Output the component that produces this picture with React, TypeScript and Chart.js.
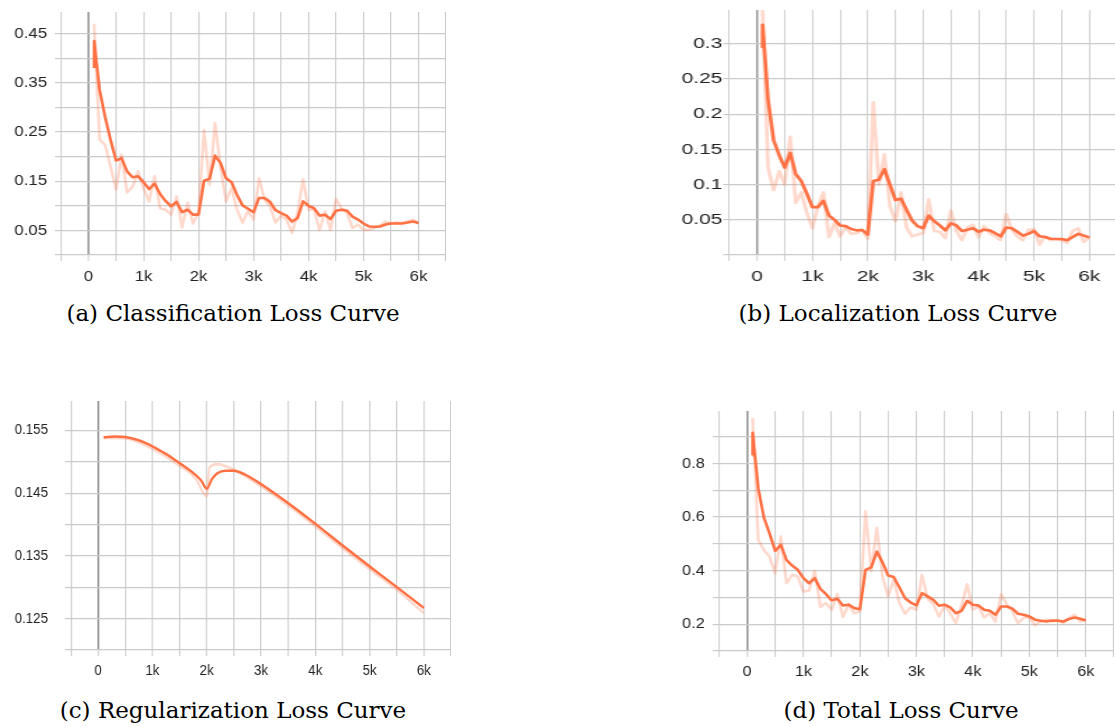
import React, { useEffect, useRef } from 'react';
import { Chart, registerables } from 'chart.js';

Chart.register(...registerables);

// ---------- shared axis data ----------
const RAW_STEPS = [
  100, 200, 300, 400, 500, 600, 700, 800, 900, 1000,
  1100, 1200, 1300, 1400, 1500, 1600, 1700, 1800, 1900, 2000,
  2100, 2200, 2300, 2400, 2500, 2600, 2700, 2800, 2900, 3000,
  3100, 3200, 3300, 3400, 3500, 3600, 3700, 3800, 3900, 4000,
  4100, 4200, 4300, 4400, 4500, 4600, 4700, 4800, 4900, 5000,
  5100, 5200, 5300, 5400, 5500, 5600, 5700, 5800, 5900, 6000,
];
const SMOOTH_STEPS = [100, 102, ...RAW_STEPS.slice(1)];
const X_TICK_VALUES = [0, 1000, 2000, 3000, 4000, 5000, 6000];
const X_TICK_LABELS = ['0', '1k', '2k', '3k', '4k', '5k', '6k'];

// ---------- (a) classification ----------
const CLS_SMOOTH = [
  0.38, 0.435, 0.336, 0.281, 0.234, 0.192, 0.197, 0.170, 0.158, 0.160, 0.148,
  0.134, 0.145, 0.124, 0.110, 0.099, 0.108, 0.087, 0.092, 0.082, 0.082,
  0.151, 0.155, 0.202, 0.187, 0.156, 0.148, 0.122, 0.101, 0.094, 0.087,
  0.116, 0.116, 0.108, 0.091, 0.085, 0.080, 0.068, 0.075, 0.109, 0.100,
  0.095, 0.080, 0.082, 0.073, 0.090, 0.092, 0.090, 0.078, 0.072, 0.064,
  0.058, 0.0575, 0.058, 0.062, 0.064, 0.064, 0.064, 0.066, 0.068, 0.065,
];
const CLS_RAW = [
  0.47, 0.235, 0.224, 0.18, 0.133, 0.204, 0.127, 0.139, 0.17, 0.136,
  0.109, 0.16, 0.095, 0.092, 0.082, 0.119, 0.056, 0.106, 0.064, 0.087,
  0.254, 0.143, 0.268, 0.18, 0.109, 0.136, 0.092, 0.066, 0.089, 0.072,
  0.156, 0.112, 0.099, 0.066, 0.08, 0.072, 0.045, 0.085, 0.154, 0.092,
  0.092, 0.051, 0.089, 0.051, 0.114, 0.095, 0.085, 0.055, 0.062, 0.051,
  0.051, 0.055, 0.06, 0.068, 0.064, 0.066, 0.065, 0.068, 0.072, 0.064,
];
const CLS_Y_TICKS = [0.05, 0.15, 0.25, 0.35, 0.45];
const CLS_Y_LABELS = ['0.05', '0.15', '0.25', '0.35', '0.45'];

// ---------- (b) localization ----------
const LOC_SMOOTH = [
  0.294, 0.327, 0.22, 0.163, 0.142, 0.124, 0.145, 0.115, 0.105, 0.087, 0.068,
  0.068, 0.077, 0.056, 0.05, 0.042, 0.041, 0.037, 0.035, 0.0355, 0.029,
  0.105, 0.107, 0.122, 0.10, 0.078, 0.080, 0.064, 0.049, 0.041, 0.038,
  0.056, 0.048, 0.042, 0.035, 0.045, 0.042, 0.034, 0.036, 0.038, 0.033,
  0.036, 0.035, 0.031, 0.0265, 0.039, 0.038, 0.033, 0.0275, 0.030, 0.034,
  0.0265, 0.0255, 0.023, 0.0227, 0.0227, 0.021, 0.0255, 0.030, 0.0275, 0.025,
];
const LOC_RAW = [
  0.35, 0.124, 0.092, 0.119, 0.10, 0.168, 0.074, 0.089, 0.06, 0.038,
  0.069, 0.089, 0.0255, 0.046, 0.0265, 0.039, 0.030, 0.031, 0.036, 0.023,
  0.217, 0.10, 0.143, 0.069, 0.048, 0.089, 0.039, 0.0265, 0.029, 0.031,
  0.079, 0.034, 0.033, 0.024, 0.063, 0.034, 0.021, 0.039, 0.043, 0.025,
  0.041, 0.031, 0.0265, 0.021, 0.058, 0.036, 0.0265, 0.021, 0.036, 0.037,
  0.0147, 0.0265, 0.021, 0.0227, 0.021, 0.017, 0.034, 0.038, 0.0185, 0.0255,
];
const LOC_Y_TICKS = [0.05, 0.1, 0.15, 0.2, 0.25, 0.3];
const LOC_Y_LABELS = ['0.05', '0.1', '0.15', '0.2', '0.25', '0.3'];

// ---------- (c) regularization ----------
const REG_SMOOTH_STEPS = [100, 300, 500, 700, 900, 1100, 1300, 1500, 1700, 1900, 2000, 2100, 2200, 2350, 2500, 2700, 3000, 3500, 4000, 4500, 5000, 5500, 6000];
const REG_SMOOTH = [0.1539, 0.15405, 0.15395, 0.15355, 0.1529, 0.152, 0.151, 0.1498, 0.14857, 0.147, 0.1457, 0.1473, 0.1482, 0.14858, 0.14858, 0.148, 0.14645, 0.14342, 0.14013, 0.13668, 0.13333, 0.13004, 0.12669];
const REG_RAW_STEPS = [100, 500, 1000, 1500, 1800, 2000, 2050, 2200, 2500, 3000, 3500, 4000, 4500, 5000, 5500, 6000];
const REG_RAW = [0.1538, 0.15372, 0.15208, 0.14937, 0.1473, 0.14448, 0.1491, 0.14964, 0.14873, 0.14608, 0.14305, 0.1397, 0.13625, 0.1329, 0.12961, 0.1259];
const REG_Y_TICKS = [0.125, 0.135, 0.145, 0.155];
const REG_Y_LABELS = ['0.125', '0.135', '0.145', '0.155'];

// ---------- (d) total ----------
const TOT_SMOOTH = [
  0.831, 0.915, 0.707, 0.598, 0.539, 0.474, 0.496, 0.44, 0.419, 0.403, 0.372,
  0.353, 0.372, 0.332, 0.312, 0.289, 0.295, 0.27, 0.273, 0.26, 0.256,
  0.403, 0.412, 0.471, 0.431, 0.382, 0.376, 0.337, 0.297, 0.281, 0.27,
  0.316, 0.304, 0.291, 0.269, 0.273, 0.263, 0.241, 0.25, 0.287, 0.273,
  0.27, 0.254, 0.25, 0.235, 0.266, 0.266, 0.258, 0.239, 0.235, 0.229,
  0.217, 0.213, 0.21, 0.214, 0.213, 0.21, 0.219, 0.225, 0.22, 0.214,
];
const TOT_RAW = [
  0.97, 0.515, 0.477, 0.452, 0.39, 0.527, 0.353, 0.384, 0.378, 0.322,
  0.326, 0.399, 0.264, 0.279, 0.254, 0.313, 0.227, 0.273, 0.241, 0.248,
  0.622, 0.399, 0.56, 0.378, 0.304, 0.366, 0.279, 0.239, 0.263, 0.254,
  0.384, 0.295, 0.275, 0.229, 0.27, 0.241, 0.204, 0.269, 0.349, 0.254,
  0.266, 0.225, 0.241, 0.21, 0.312, 0.275, 0.248, 0.204, 0.225, 0.225,
  0.196, 0.21, 0.217, 0.21, 0.217, 0.204, 0.223, 0.235, 0.21, 0.22,
];
const TOT_Y_TICKS = [0.2, 0.4, 0.6, 0.8];
const TOT_Y_LABELS = ['0.2', '0.4', '0.6', '0.8'];

// ---------- styling / layout ----------
const SMOOTH_COLOR = '#ff7043';
const RAW_COLOR = 'rgba(255,112,67,0.27)';
const GRID_COLOR = '#cacaca';
const ZERO_COLOR = '#999999';
const LABEL_COLOR = '#222222';
const X_AXIS_H = 45;

type Spec = {
  caption: string;
  smoothSteps: number[];
  smooth: number[];
  rawSteps: number[];
  raw: number[];
  yMin: number;
  yMax: number;
  yStep: number;
  yTicks: number[];
  yLabels: string[];
  tension: number;
  canvasLeft: number;
  left: number;
  right: number;
  top: number;
  bottom: number;
  sx: number;
  fontSize: number;
  yGap: number;
  xPad: number;
  capCenter: number;
  capTop: number;
};

const SPECS: Spec[] = [
  {
    caption: '(a) Classification Loss Curve',
    smoothSteps: SMOOTH_STEPS, smooth: CLS_SMOOTH, rawSteps: RAW_STEPS, raw: CLS_RAW,
    yMin: 0, yMax: 0.494, yStep: 0.05, yTicks: CLS_Y_TICKS, yLabels: CLS_Y_LABELS, tension: 0,
    canvasLeft: 0, left: 61, right: 445.6, top: 12, bottom: 255, sx: 1.12, fontSize: 15, yGap: 8, xPad: 7,
    capCenter: 233, capTop: 302,
  },
  {
    caption: '(b) Localization Loss Curve',
    smoothSteps: SMOOTH_STEPS, smooth: LOC_SMOOTH, rawSteps: RAW_STEPS, raw: LOC_RAW,
    yMin: 0, yMax: 0.348, yStep: 0.05, yTicks: LOC_Y_TICKS, yLabels: LOC_Y_LABELS, tension: 0,
    canvasLeft: 640, left: 729.3, right: 1117.1, top: 10, bottom: 255.3, sx: 1.4, fontSize: 15, yGap: 1, xPad: 7,
    capCenter: 898, capTop: 302,
  },
  {
    caption: '(c) Regularization Loss Curve',
    smoothSteps: REG_SMOOTH_STEPS, smooth: REG_SMOOTH, rawSteps: REG_RAW_STEPS, raw: REG_RAW,
    yMin: 0.12, yMax: 0.1597, yStep: 0.005, yTicks: REG_Y_TICKS, yLabels: REG_Y_LABELS, tension: 0.35,
    canvasLeft: 0, left: 71, right: 451.3, top: 401, bottom: 650.3, sx: 0.92, fontSize: 14.5, yGap: 17, xPad: 6,
    capCenter: 233, capTop: 699,
  },
  {
    caption: '(d) Total Loss Curve',
    smoothSteps: SMOOTH_STEPS, smooth: TOT_SMOOTH, rawSteps: RAW_STEPS, raw: TOT_RAW,
    yMin: 0.1, yMax: 0.996, yStep: 0.1, yTicks: TOT_Y_TICKS, yLabels: TOT_Y_LABELS, tension: 0,
    canvasLeft: 640, left: 718.7, right: 1114, top: 411, bottom: 651.3, sx: 1.12, fontSize: 14.5, yGap: 8, xPad: 6,
    capCenter: 901, capTop: 699,
  },
];

function LossChart({ spec }: { spec: Spec }) {
  const ref = useRef<HTMLCanvasElement | null>(null);
  const cssW = spec.right - spec.canvasLeft;
  const cssH = Math.round(spec.bottom - spec.top + X_AXIS_H);
  const attrW = Math.round(cssW / spec.sx);
  const sx = cssW / attrW;

  useEffect(() => {
    const canvas = ref.current;
    if (!canvas) return;
    const yAxisW = (spec.left - spec.canvasLeft) / sx;
    const font = { family: "'Liberation Sans', Arial, sans-serif", size: spec.fontSize };
    const chart = new Chart(canvas, {
      type: 'line',
      data: {
        datasets: [
          {
            label: 'smoothed',
            data: spec.smoothSteps.map((s, i) => ({ x: s, y: spec.smooth[i] })),
            borderColor: SMOOTH_COLOR,
            borderWidth: 2.6,
            pointRadius: 0,
            tension: spec.tension,
            cubicInterpolationMode: spec.tension ? 'monotone' : 'default',
            borderJoinStyle: 'round',
            fill: false,
          },
          {
            label: 'raw',
            data: spec.rawSteps.map((s, i) => ({ x: s, y: spec.raw[i] })),
            borderColor: RAW_COLOR,
            borderWidth: 2.6,
            pointRadius: 0,
            tension: spec.tension,
            cubicInterpolationMode: spec.tension ? 'monotone' : 'default',
            borderJoinStyle: 'round',
            fill: false,
          },
        ],
      },
      options: {
        animation: false,
        responsive: false,
        maintainAspectRatio: false,
        devicePixelRatio: 1,
        events: [],
        layout: { padding: 0 },
        plugins: { legend: { display: false }, tooltip: { enabled: false }, title: { display: false } },
        scales: {
          x: {
            type: 'linear',
            min: -500,
            max: 6500,
            border: { display: false },
            grid: {
              color: (ctx: any) => (ctx.tick && ctx.tick.value === 0 ? ZERO_COLOR : GRID_COLOR),
              lineWidth: (ctx: any) => (ctx.tick && ctx.tick.value === 0 ? 2 / sx : 1.2 / sx),
              tickColor: GRID_COLOR,
              tickLength: 6,
              tickWidth: 1.2 / sx,
            },
            ticks: {
              stepSize: 500,
              autoSkip: false,
              maxRotation: 0,
              padding: spec.xPad,
              color: LABEL_COLOR,
              font,
              callback: (v: any) => {
                const i = X_TICK_VALUES.indexOf(Number(v));
                return i >= 0 ? X_TICK_LABELS[i] : '';
              },
            },
            afterFit: (scale: any) => {
              scale.height = X_AXIS_H;
              scale.paddingLeft = 0;
              scale.paddingRight = 0;
            },
          },
          y: {
            type: 'linear',
            min: spec.yMin,
            max: spec.yMax,
            border: { display: false },
            grid: {
              color: GRID_COLOR,
              lineWidth: 1.2,
              tickColor: GRID_COLOR,
              tickLength: 6 / sx,
            },
            ticks: {
              stepSize: spec.yStep,
              includeBounds: false,
              autoSkip: false,
              padding: spec.yGap / sx,
              color: LABEL_COLOR,
              font,
              callback: (v: any) => {
                const val = Number(v);
                const i = spec.yTicks.findIndex((t) => Math.abs(t - val) < 1e-9);
                return i >= 0 ? spec.yLabels[i] : '';
              },
            },
            afterFit: (scale: any) => {
              scale.width = yAxisW;
              scale.paddingTop = 0;
              scale.paddingBottom = 0;
            },
          },
        },
      } as any,
    });
    return () => chart.destroy();
  }, [spec, sx]);

  return (
    <canvas
      ref={ref}
      width={attrW}
      height={cssH}
      style={{
        position: 'absolute',
        left: spec.canvasLeft,
        top: spec.top,
        width: cssW,
        height: cssH,
      }}
    />
  );
}

export default function App() {
  return (
    <div
      style={{
        position: 'fixed',
        left: 0,
        top: 0,
        width: 1115,
        height: 727,
        overflow: 'hidden',
        background: '#ffffff',
      }}
    >
      {SPECS.map((spec) => (
        <LossChart key={spec.caption} spec={spec} />
      ))}
      {SPECS.map((spec) => (
        <div
          key={spec.caption + '-cap'}
          style={{
            position: 'absolute',
            left: spec.capCenter - 250,
            width: 500,
            top: spec.capTop,
            textAlign: 'center',
            fontFamily: "'DejaVu Serif', serif",
            fontSize: 23,
            lineHeight: '23px',
            color: '#000',
            whiteSpace: 'nowrap',
          }}
        >
          {spec.caption}
        </div>
      ))}
    </div>
  );
}
